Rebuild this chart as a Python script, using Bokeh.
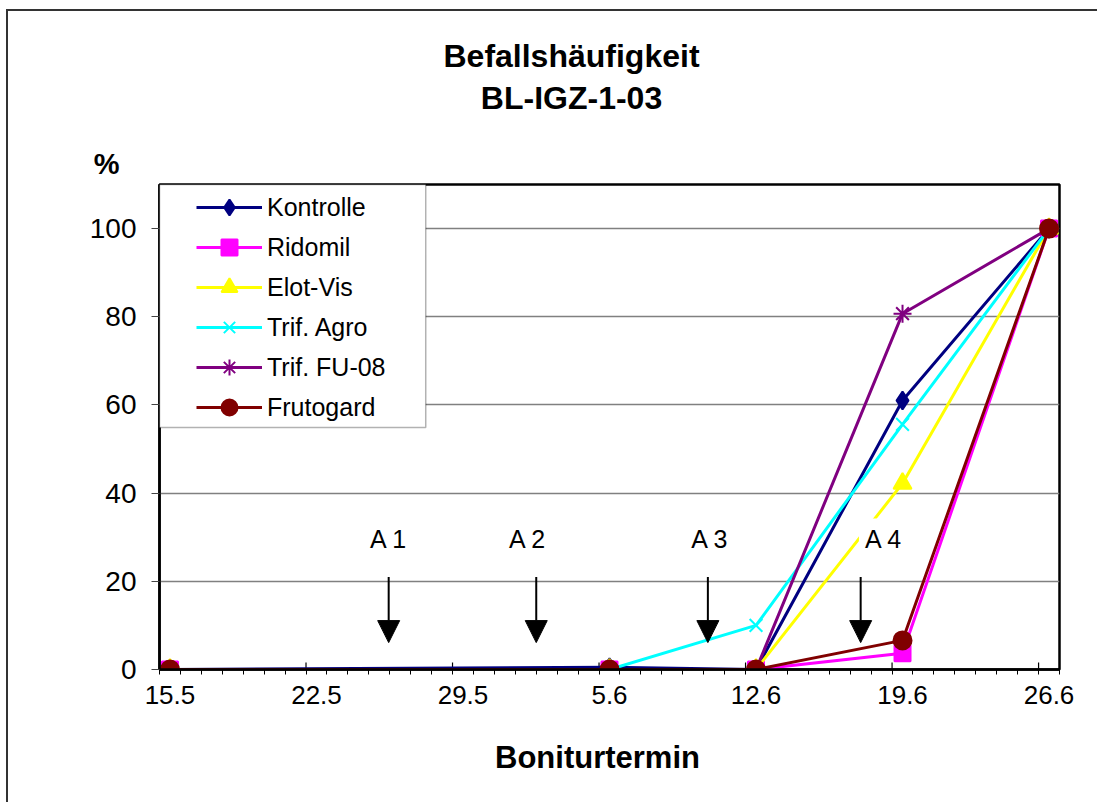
from datetime import date
from bokeh.plotting import figure
from bokeh.layouts import column
from bokeh.models import (Range1d, FixedTicker, Label, Arrow, NormalHead, BoxAnnotation,
                          Legend, LegendItem)
from bokeh.core.properties import value
from bokeh.embed import file_html
from bokeh.resources import INLINE

YEAR = 2003
# --- data -------------------------------------------------------------
tick_labels = ["15.5", "22.5", "29.5", "5.6", "12.6", "19.6", "26.6"]
termine = ["15.5", "5.6", "12.6", "19.6", "26.6"]
y_ticks = [0, 20, 40, 60, 80, 100]

kontrolle = [0, 0.5, 0, 61.0, 100]
ridomil = [0, 0, 0, 3.7, 100]
elot_vis = [0, 0, 0, 42.2, 100]
trif_agro = [0, 0, 10.0, 55.6, 100]
trif_fu08 = [0, 0, 0, 80.7, 100]
frutogard = [0, 0, 0, 6.6, 100]

series_names = ["Kontrolle", "Ridomil", "Elot-Vis", "Trif. Agro", "Trif. FU-08", "Frutogard"]
series_values = [kontrolle, ridomil, elot_vis, trif_agro, trif_fu08, frutogard]

# applications (arrows), in days after 15.5
app_labels = ["A 1", "A 2", "A 3", "A 4"]
app_days = [10.45, 17.5, 25.7, 33.0]
app_label_days = [10.45, 17.1, 25.8, 34.1]

title_lines = ["Befallshäufigkeit", "BL-IGZ-1-03"]
y_unit = "%"
x_title = "Boniturtermin"

# --- styles / layout (page pixel coordinates) --------------------------
colors = ["#000080", "#FF00FF", "#FFFF00", "#00FFFF", "#800080", "#800000"]
markers = ["diamond", "square", "triangle", "x", "asterisk", "circle"]
msizes = [18, 16, 18, 18, 18, 18]
FONT = "Liberation Sans"
W = 1091
BL, FW, FH = 151, 900, 485
BR = W - BL - FW
FRAME_LEFT = 8 + BL                 # page x of the plot area's left edge
HEAD_TOP, HEAD_H = 11, 171
MAIN_H_BOTTOM = 50
FOOT_TOP = HEAD_TOP + HEAD_H + 2 + FH + MAIN_H_BOTTOM
FOOT_H = 85


def day(s):
    d, m = s.split(".")
    return (date(YEAR, int(m), int(d)) - date(YEAR, 5, 15)).days


def text_fig(top, height):
    f = figure(frame_width=FW, frame_height=height, min_border_left=BL, min_border_right=BR,
               min_border_top=0, min_border_bottom=0,
               x_range=Range1d(FRAME_LEFT, FRAME_LEFT + FW),
               y_range=Range1d(top + height, top), x_axis_type=None,
               output_backend="svg", toolbar_location=None, tools="")
    f.outline_line_color = None
    f.xgrid.visible = False
    f.ygrid.visible = False
    f.yaxis.visible = False
    f.background_fill_color = "white"
    f.border_fill_color = "white"
    return f


x_days = [day(s) for s in termine]
tick_days = [day(s) for s in tick_labels]
first, last = tick_days[0], tick_days[-1]
bounds = [first - 0.5 + k for k in range(last - first + 2)]
major_bounds = [t - 0.5 for t in tick_days]

# --- header (title + unit) --------------------------------------------
head = text_fig(HEAD_TOP, HEAD_H)
head.text(x=[571, 571], y=[55, 97], text=title_lines, text_align="center",
          text_baseline="middle", text_font=value(FONT), text_font_size="32px",
          text_font_style="bold", text_color="black")
hy = head.yaxis[0]
hy.visible = True
hy.ticker = FixedTicker(ticks=[163])
hy.major_label_overrides = {163: y_unit}
hy.major_tick_line_color = None
hy.minor_tick_line_color = None
hy.axis_line_color = None
hy.major_label_standoff = 34
hy.major_label_text_font = FONT
hy.major_label_text_font_size = "29px"
hy.major_label_text_font_style = "bold"
hy.major_label_text_color = "black"

# --- main chart -------------------------------------------------------
p = figure(frame_width=FW, frame_height=FH,
           min_border_left=BL, min_border_right=BR,
           min_border_top=2, min_border_bottom=MAIN_H_BOTTOM,
           x_range=Range1d(first - 0.5, last + 0.5), y_range=Range1d(0, 110),
           output_backend="svg", toolbar_location=None, tools="")
p.background_fill_color = "white"
p.border_fill_color = "white"
p.outline_line_color = "black"
p.outline_line_width = 2.5

xa = p.xaxis[0]
xa.ticker = FixedTicker(ticks=tick_days, minor_ticks=bounds)
xa.major_label_overrides = {d: lab for d, lab in zip(tick_days, tick_labels)}
xa.major_tick_in = 0
xa.major_tick_out = 0
xa.minor_tick_in = 0
xa.minor_tick_out = 5
xa.minor_tick_line_color = "black"
xa.minor_tick_line_width = 1
xa.axis_line_color = "black"
xa.axis_line_width = 2.5
xa.major_label_text_font = FONT
xa.major_label_text_font_size = "26px"
xa.major_label_text_color = "black"
xa.major_label_standoff = 11

ya = p.yaxis[0]
ya.ticker = FixedTicker(ticks=y_ticks)
ya.major_tick_in = 0
ya.major_tick_out = 8
ya.major_tick_line_color = "#444444"
ya.minor_tick_line_color = None
ya.axis_line_color = "black"
ya.axis_line_width = 2.5
ya.major_label_text_font = FONT
ya.major_label_text_font_size = "28px"
ya.major_label_text_color = "black"
ya.major_label_standoff = 15

p.xgrid.visible = False
p.ygrid.ticker = FixedTicker(ticks=y_ticks[1:])
p.ygrid.grid_line_color = "#808080"
p.ygrid.grid_line_width = 1.5

# long major ticks (inner part) on the date axis
p.segment(x0=major_bounds, y0=[0] * len(major_bounds), x1=major_bounds,
          y1=[1.6] * len(major_bounds), line_color="black", line_width=1.2)

items = []
for name, vals, col, mk, ms in zip(series_names, series_values, colors, markers, msizes):
    lr = p.line(x_days, vals, line_color=col, line_width=3)
    sr = p.scatter(x_days, vals, marker=mk, size=ms,
                   fill_color=col, line_color=col, line_width=2)
    items.append(LegendItem(label=name, renderers=[lr, sr]))

# legend box
box = BoxAnnotation(left=first - 0.5, right=12.22, top=110, bottom=54.9,
                    fill_color="white", fill_alpha=1, line_color="black", line_width=1.5)
p.add_layout(box)
legend = Legend(items=items, location=(37, 242), padding=0, margin=0, spacing=0,
                glyph_width=66, glyph_height=40, label_height=40, label_standoff=5,
                label_text_font=FONT, label_text_font_size="25px", label_text_color="black",
                border_line_color=None, background_fill_alpha=0)
p.add_layout(legend)

for xd, lx, lab in zip(app_days, app_label_days, app_labels):
    p.add_layout(Arrow(end=NormalHead(size=22, fill_color="black", line_color="black"),
                       x_start=xd, y_start=21, x_end=xd, y_end=6.1,
                       line_color="black", line_width=2))
    p.add_layout(Label(x=lx, y=29.7, text=lab, text_align="center", text_baseline="middle",
                       text_font=FONT, text_font_size="25px", text_color="black",
                       background_fill_color="white", padding=6))

# --- footer (axis title) ----------------------------------------------
foot = text_fig(FOOT_TOP, FOOT_H)
foot.text(x=[597], y=[757], text=[x_title], text_align="center", text_baseline="middle",
          text_font=value(FONT), text_font_size="31px", text_font_style="bold",
          text_color="black")

layout = column(head, p, foot, spacing=0)
layout.styles = {"margin-left": "8px", "margin-top": "11px", "background-color": "white",
                 "box-shadow": "-2px -2px 0 0 #333333"}

open("out.html", "w").write(file_html(layout, INLINE))
